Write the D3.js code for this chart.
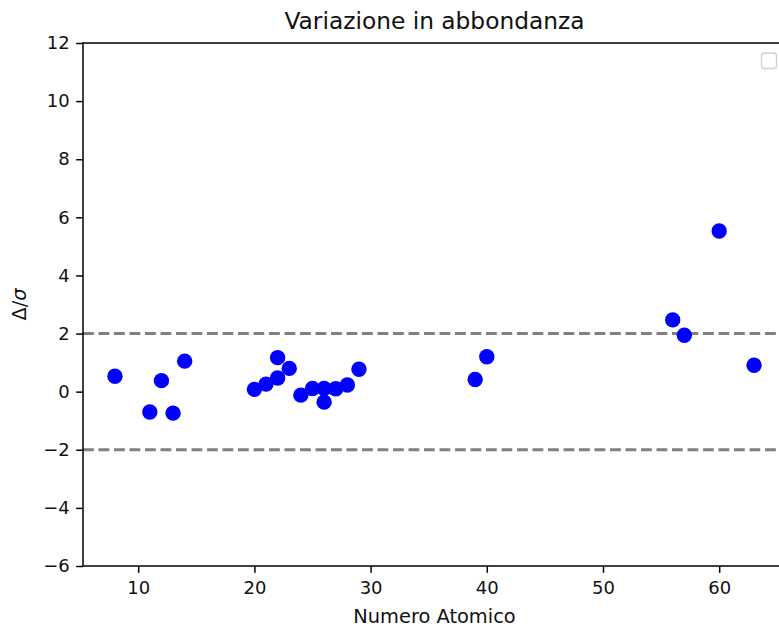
<!DOCTYPE html>
<html>
<head>
<meta charset="utf-8">
<script src="https://cdn.jsdelivr.net/npm/d3@7/dist/d3.min.js"></script>
<style>
  body { margin: 0; background: #fff; }
  svg { display: block; font-family: "DejaVu Sans", sans-serif; }
</style>
</head>
<body>
<div id="chart"></div>
<script>
// Atomic number and deviation (Delta / sigma)
const atomicNumbers = [8, 11, 12, 13, 14, 20, 21, 22, 22, 23, 24, 25, 26, 26, 27, 28, 29, 39, 40, 56, 57, 60, 63];
const deviations = [0.53, -0.70, 0.38, -0.74, 1.05, 0.08, 0.26, 1.17, 0.47, 0.80, -0.12, 0.11, 0.11, -0.36, 0.10, 0.23, 0.77, 0.42, 1.20, 2.47, 1.94, 5.53, 0.91];
const thresholds = [2, -2];
const xTicks = [10, 20, 30, 40, 50, 60];
const yTicks = [-6, -4, -2, 0, 2, 4, 6, 8, 10, 12];

const width = 779, height = 630;
const margin = {left: 83, right: 786, top: 43, bottom: 566}; // axes box (right edge is cut off by the window)

const svg = d3.select('#chart').append('svg')
  .attr('width', width)
  .attr('height', height);

const x = d3.scaleLinear().domain([5.25, 65.75]).range([margin.left, margin.right]);
const y = d3.scaleLinear().domain([-6, 12]).range([margin.bottom, margin.top]);

// Threshold lines at +/- 2 sigma
svg.selectAll('line.thr')
  .data(thresholds)
  .join('line')
  .attr('class', 'thr')
  .attr('x1', margin.left)
  .attr('x2', margin.right)
  .attr('y1', d => y(d))
  .attr('y2', d => y(d))
  .attr('stroke', '#808080')
  .attr('stroke-width', 2.9)
  .attr('stroke-dasharray', '10.8,4.7');

// Points
svg.selectAll('circle.pt')
  .data(atomicNumbers.map((z, i) => ({z: z, d: deviations[i]})))
  .join('circle')
  .attr('class', 'pt')
  .attr('cx', d => x(d.z))
  .attr('cy', d => y(d.d))
  .attr('r', 7.7)
  .attr('fill', '#0000ff');

// Axes
const xAxis = svg.append('g')
  .attr('transform', `translate(0,${margin.bottom})`)
  .call(d3.axisBottom(x).tickValues(xTicks).tickSize(6.8).tickPadding(8).tickFormat(d3.format('d')));

const yAxis = svg.append('g')
  .attr('transform', `translate(${margin.left},0)`)
  .call(d3.axisLeft(y).tickValues(yTicks).tickSize(6.8).tickPadding(6.5)
    .tickFormat(d => d < 0 ? '\u2212' + Math.abs(d) : d));

[xAxis, yAxis].forEach(a => {
  a.select('.domain').remove();
  a.selectAll('line').attr('stroke', '#000').attr('stroke-width', 1.5);
  a.selectAll('text').attr('font-size', 18).attr('fill', '#111').attr('font-family', '"DejaVu Sans", sans-serif');
});

// Frame
svg.append('rect')
  .attr('x', margin.left)
  .attr('y', margin.top)
  .attr('width', margin.right - margin.left)
  .attr('height', margin.bottom - margin.top)
  .attr('fill', 'none')
  .attr('stroke', '#000')
  .attr('stroke-width', 1.5);

// Empty legend box
svg.append('rect')
  .attr('x', 761.5)
  .attr('y', 53)
  .attr('width', 15)
  .attr('height', 15.5)
  .attr('rx', 3)
  .attr('fill', '#fff')
  .attr('stroke', '#d0d0d0')
  .attr('stroke-width', 1.3);

// Title and labels
svg.append('text')
  .attr('x', (margin.left + margin.right) / 2)
  .attr('y', 29)
  .attr('text-anchor', 'middle')
  .attr('font-size', 23.3)
  .attr('fill', '#111')
  .text('Variazione in abbondanza');

svg.append('text')
  .attr('x', (margin.left + margin.right) / 2)
  .attr('y', 623)
  .attr('text-anchor', 'middle')
  .attr('font-size', 19.4)
  .attr('fill', '#111')
  .text('Numero Atomico');

const yl = svg.append('text')
  .attr('transform', `translate(26,${(margin.top + margin.bottom) / 2}) rotate(-90)`)
  .attr('text-anchor', 'middle')
  .attr('font-size', 19.4)
  .attr('fill', '#111');
yl.append('tspan').text('\u0394/');
yl.append('tspan').attr('font-style', 'italic').text('\u03c3');
</script>
</body>
</html>
